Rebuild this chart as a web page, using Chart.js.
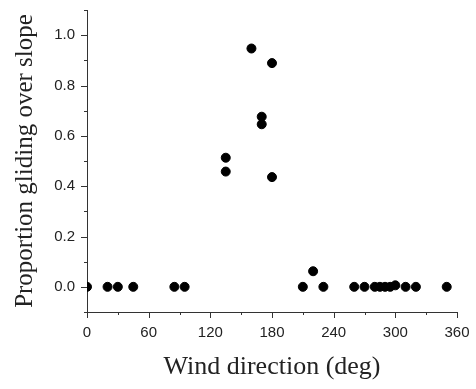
<!DOCTYPE html>
<html>
<head>
<meta charset="utf-8">
<script src="https://cdn.jsdelivr.net/npm/chart.js@4"></script>
<style>
  html, body { margin: 0; padding: 0; background: #fff; }
  #wrap { width: 476px; height: 389px; }
</style>
</head>
<body>
<div id="wrap"><canvas id="glideChart" width="476" height="389"></canvas></div>
<script>
// wind direction (deg) and proportion of birds gliding over the slope
const windDir = [0, 20, 30, 45, 85, 95, 135, 135, 160, 170, 170, 180, 180,
  210, 220, 230, 260, 270, 280, 285, 290, 295, 300, 310, 320, 350];
const propGliding = [0, 0, 0, 0, 0, 0, 0.513, 0.458, 0.947, 0.676, 0.646, 0.889, 0.436,
  0, 0.062, 0, 0, 0, 0, 0, 0, 0, 0.006, 0, 0, 0];

const xTicks = [0, 60, 120, 180, 240, 300, 360];
const yTicks = [0.0, 0.2, 0.4, 0.6, 0.8, 1.0];

const axisColor = '#333';

// draw major/minor tick marks outward from the axes
const tickMarks = {
  id: 'tickMarks',
  afterDraw(chart) {
    const ctx = chart.ctx;
    const xs = chart.scales.x, ys = chart.scales.y;
    ctx.save();
    ctx.strokeStyle = axisColor;
    ctx.lineWidth = 1;
    ctx.beginPath();
    for (let v = 0; v <= 360; v += 30) {
      const px = Math.round(xs.getPixelForValue(v)) + 0.5;
      const len = v % 60 === 0 ? 6 : 3;
      ctx.moveTo(px, xs.top);
      ctx.lineTo(px, xs.top + len);
    }
    for (let i = -1; i <= 11; i++) {
      const py = Math.round(ys.getPixelForValue(i / 10)) + 0.5;
      const len = (i % 2 === 0 && i >= 0 && i <= 10) ? 6 : 3;
      ctx.moveTo(ys.right, py);
      ctx.lineTo(ys.right - len, py);
    }
    ctx.stroke();
    ctx.restore();
  }
};

new Chart(document.getElementById('glideChart'), {
  type: 'scatter',
  data: {
    datasets: [
      {
        data: windDir.map((d, i) => ({ x: d, y: propGliding[i] })),
        backgroundColor: '#000',
        borderColor: '#000',
        pointRadius: 4.5,
        pointHoverRadius: 4.5,
      },
    ],
  },
  options: {
    responsive: false,
    animation: false,
    layout: { padding: { top: 10, right: 19, left: 0, bottom: 0 } },
    scales: {
      x: {
        type: 'linear',
        min: 0,
        max: 360,
        afterBuildTicks: (s) => { s.ticks = xTicks.map(v => ({ value: v })); },
        afterFit: (s) => { s.height = 77; s.paddingLeft = 0; s.paddingRight = 0; },
        grid: { display: false },
        border: { display: true, color: axisColor, width: 1 },
        ticks: {
          color: '#222',
          padding: 4,
          maxRotation: 0,
          autoSkip: false,
          font: { family: '"Liberation Sans", Arial, sans-serif', size: 15 },
        },
        title: {
          display: true,
          text: 'Wind direction (deg)',
          color: '#222',
          font: { family: '"Liberation Serif", "Times New Roman", serif', size: 26 },
          padding: { top: 0, bottom: 6 },
        },
      },
      y: {
        type: 'linear',
        min: -0.1,
        max: 1.1,
        afterBuildTicks: (s) => { s.ticks = yTicks.map(v => ({ value: v })); },
        afterFit: (s) => { s.width = 87; s.paddingTop = 0; s.paddingBottom = 0; },
        grid: { display: false },
        border: { display: true, color: axisColor, width: 1 },
        ticks: {
          color: '#222',
          padding: 4,
          autoSkip: false,
          callback: (v) => Number(v).toFixed(1),
          font: { family: '"Liberation Sans", Arial, sans-serif', size: 15 },
        },
        title: {
          display: true,
          text: 'Proportion gliding over slope',
          color: '#222',
          font: { family: '"Liberation Serif", "Times New Roman", serif', size: 25 },
          padding: { top: 10, bottom: 0 },
        },
      },
    },
    plugins: {
      legend: { display: false },
      tooltip: { enabled: false },
    },
  },
  plugins: [tickMarks],
});
</script>
</body>
</html>
